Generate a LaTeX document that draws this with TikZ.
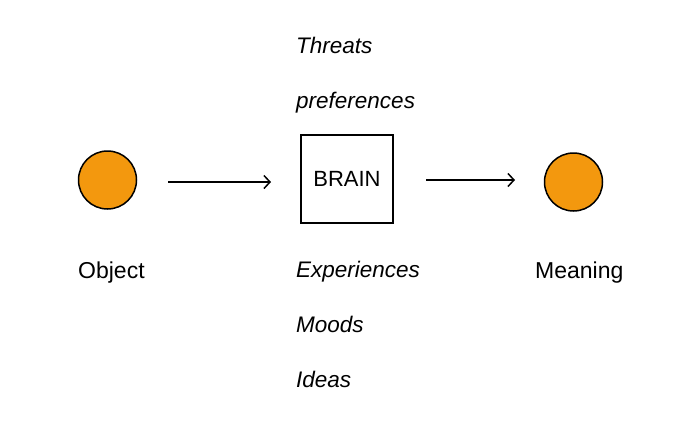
\documentclass[tikz,border=0pt]{standalone}
\usepackage{fontspec}
\setmainfont{Liberation Sans}
\usetikzlibrary{arrows.meta}
\definecolor{dotorange}{RGB}{243,152,14}
\begin{document}
\begin{tikzpicture}[x=1pt,y=-1pt,
  dot/.style={circle,draw=black,line width=1.5pt,fill=dotorange,minimum size=58pt,inner sep=0pt},
  brainbox/.style={draw=black,line width=1.6pt,minimum width=92pt,minimum height=88pt,inner sep=0pt,font=\fontsize{22}{26}\selectfont},
  lab/.style={anchor=base west,inner sep=0pt,font=\fontsize{23}{27}\selectfont},
  ilab/.style={lab,font=\fontsize{22.5}{27}\selectfont\itshape},
  conn/.style={line width=1.5pt,-{Straight Barb[length=6pt,width=13pt,line width=1.5pt]}}]
\useasboundingbox (0,0) rectangle (682,426);
\node[dot] (obj) at (107.5,180) {};
\node[dot] (mean) at (573.5,182) {};
\node[brainbox] (brain) at (347,179) {BRAIN};
\coordinate (a1s) at (168,182);
\coordinate (a1e) at (271,182);
\coordinate (a2s) at (426,180);
\coordinate (a2e) at (515,180);
\draw[conn] (a1s) -- (a1e);
\draw[conn] (a2s) -- (a2e);
\node[lab] (objl) at (78,278) {Object};
\node[lab] (meanl) at (535,278) {Meaning};
\node[ilab] (t1) at (296,53) {Threats};
\node[ilab] (t2) at (296,108) {preferences};
\node[ilab] (t3) at (296,277) {Experiences};
\node[ilab] (t4) at (296,332) {Moods};
\node[ilab] (t5) at (296,387) {Ideas};
\end{tikzpicture}
\end{document}
